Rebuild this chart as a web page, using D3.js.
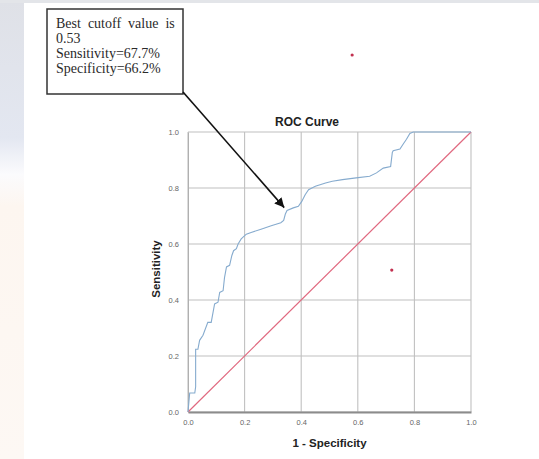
<!DOCTYPE html>
<html>
<head>
<meta charset="utf-8">
<script src="https://cdn.jsdelivr.net/npm/d3@7"></script>
<style>
  body { margin: 0; background: #fff; }
  svg { display: block; }
</style>
</head>
<body>
<svg id="chart" width="539" height="459"></svg>
<script>
// ROC curve points
const fpr = [0, 0.006, 0.024, 0.027, 0.027, 0.035, 0.041, 0.053, 0.07, 0.082,
  0.094, 0.106, 0.112, 0.124, 0.129, 0.136, 0.147, 0.155, 0.161, 0.171,
  0.177, 0.188, 0.206, 0.223, 0.258, 0.294, 0.328, 0.338, 0.344, 0.35,
  0.372, 0.39, 0.402, 0.414, 0.426, 0.45, 0.486, 0.51, 0.546, 0.594,
  0.642, 0.666, 0.69, 0.716, 0.722, 0.725, 0.749, 0.76, 0.772, 0.784,
  0.796, 0.856, 1.0]
const tpr = [0, 0.068, 0.068, 0.09, 0.224, 0.224, 0.256, 0.274, 0.32, 0.32,
  0.386, 0.392, 0.427, 0.433, 0.48, 0.518, 0.524, 0.559, 0.576, 0.583,
  0.6, 0.618, 0.635, 0.641, 0.653, 0.665, 0.676, 0.684, 0.707, 0.72,
  0.729, 0.735, 0.752, 0.776, 0.794, 0.806, 0.818, 0.824, 0.83, 0.836,
  0.842, 0.854, 0.871, 0.877, 0.927, 0.933, 0.939, 0.956, 0.974, 0.995,
  1.0, 1.0, 1.0]
const refLine = [0, 1]
const ticks = [0, 0.2, 0.4, 0.6, 0.8, 1.0]
const noteLines = ["Best cutoff value is", "0.53", "Sensitivity=67.7%", "Specificity=66.2%"]
const cutoffPoint = [0.34, 0.73]
const strayDots = [[0.58, 1.275], [0.72, 0.507]]

const svg = d3.select("#chart")

// page backdrop: grey top strip and tinted left edge
const defs = svg.append("defs")
const grad = defs.append("linearGradient").attr("id", "edge")
  .attr("x1", 0).attr("y1", 0).attr("x2", 0).attr("y2", 1)
grad.append("stop").attr("offset", "0%").attr("stop-color", "#dfe1e7")
grad.append("stop").attr("offset", "30%").attr("stop-color", "#e3e7f1")
grad.append("stop").attr("offset", "38%").attr("stop-color", "#fbfbfd")
grad.append("stop").attr("offset", "45%").attr("stop-color", "#fdf6f0")
grad.append("stop").attr("offset", "100%").attr("stop-color", "#fdf8f4")
svg.append("rect").attr("x", 0).attr("y", 0).attr("width", 539).attr("height", 459).attr("fill", "url(#edge)")
svg.append("rect").attr("x", 0).attr("y", 0).attr("width", 539).attr("height", 3).attr("fill", "#e3e5e9")
svg.append("rect").attr("x", 24).attr("y", 3).attr("width", 515).attr("height", 456).attr("fill", "#fff")

const margin = { left: 188, top: 132, right: 68, bottom: 47 }
const width = 539 - margin.left - margin.right
const height = 459 - margin.top - margin.bottom

const x = d3.scaleLinear().domain([0, 1]).range([0, width])
const y = d3.scaleLinear().domain([0, 1]).range([height, 0])

const g = svg.append("g").attr("transform", `translate(${margin.left},${margin.top})`)

// grid
g.append("g").selectAll("line").data(ticks).enter().append("line")
  .attr("x1", d => x(d)).attr("x2", d => x(d))
  .attr("y1", 0).attr("y2", height)
  .attr("stroke", "#c0c0c0").attr("stroke-width", 1.1)
g.append("g").selectAll("line").data(ticks).enter().append("line")
  .attr("x1", 0).attr("x2", width)
  .attr("y1", d => y(d)).attr("y2", d => y(d))
  .attr("stroke", "#c0c0c0").attr("stroke-width", 1.1)

// axes
const xAxis = g.append("g")
  .attr("transform", `translate(0,${height})`)
  .call(d3.axisBottom(x).tickValues(ticks).tickFormat(d3.format(".1f")).tickSize(0).tickPadding(8))
xAxis.select(".domain").attr("stroke", "#8c8c8c").attr("stroke-width", 2)

const yAxis = g.append("g")
  .call(d3.axisLeft(y).tickValues(ticks).tickFormat(d3.format(".1f")).tickSize(0).tickPadding(9))
yAxis.select(".domain").attr("stroke", "#b0b0b0").attr("stroke-width", 1)

svg.selectAll(".tick text")
  .attr("font-family", "Liberation Sans, Arial, sans-serif")
  .attr("font-size", "7.5px")
  .attr("fill", "#666")

// reference diagonal
g.append("path")
  .datum(refLine)
  .attr("d", d3.line().x(d => x(d)).y(d => y(d)))
  .attr("fill", "none").attr("stroke", "#e0687f").attr("stroke-width", 1.2)

// ROC curve
const rocData = fpr.map((v, i) => [v, tpr[i]])
g.append("path")
  .datum(rocData)
  .attr("d", d3.line().x(d => x(d[0])).y(d => y(d[1])))
  .attr("fill", "none").attr("stroke", "#86abce").attr("stroke-width", 1.1)

// stray red dots
g.append("g").selectAll("circle").data(strayDots).enter().append("circle")
  .attr("cx", d => x(d[0])).attr("cy", d => y(d[1]))
  .attr("r", 1.6).attr("fill", "#c23150")

// titles
svg.append("text")
  .attr("x", 307).attr("y", 126)
  .attr("text-anchor", "middle")
  .attr("font-family", "Liberation Sans, Arial, sans-serif")
  .attr("font-weight", "bold").attr("font-size", "12px").attr("fill", "#222")
  .text("ROC Curve")
svg.append("text")
  .attr("x", margin.left + width / 2).attr("y", 447)
  .attr("text-anchor", "middle")
  .attr("font-family", "Liberation Sans, Arial, sans-serif")
  .attr("font-weight", "bold").attr("font-size", "11.5px").attr("fill", "#222")
  .text("1 - Specificity")
svg.append("text")
  .attr("transform", `translate(159.5,269) rotate(-90)`)
  .attr("text-anchor", "middle")
  .attr("font-family", "Liberation Sans, Arial, sans-serif")
  .attr("font-weight", "bold").attr("font-size", "11.5px").attr("fill", "#222")
  .text("Sensitivity")

// annotation box
const box = { x: 47, y: 9, w: 136, h: 85 }
svg.append("rect")
  .attr("x", box.x).attr("y", box.y).attr("width", box.w).attr("height", box.h)
  .attr("fill", "#fff").attr("stroke", "#333").attr("stroke-width", 1.5)
svg.append("g").selectAll("text").data(noteLines).enter().append("text")
  .attr("x", 56).attr("y", (d, i) => 27.5 + i * 15)
  .attr("font-family", "Liberation Serif, Times New Roman, serif")
  .attr("font-size", "14px").attr("fill", "#2a2a2a")
  .style("word-spacing", (d, i) => i === 0 ? "3.5px" : "0px")
  .text(d => d)

// arrow from box corner to cutoff point
defs.append("marker").attr("id", "arrowhead")
  .attr("viewBox", "0 0 10 10").attr("refX", 10).attr("refY", 5)
  .attr("markerWidth", 6).attr("markerHeight", 6).attr("markerUnits", "strokeWidth")
  .attr("orient", "auto")
  .append("path").attr("d", "M0,0 L10,5 L0,10 Z").attr("fill", "#111")
svg.append("line")
  .attr("x1", box.x + box.w).attr("y1", box.y + box.h - 2)
  .attr("x2", margin.left + x(cutoffPoint[0])).attr("y2", margin.top + y(cutoffPoint[1]))
  .attr("stroke", "#111").attr("stroke-width", 1.6)
  .attr("marker-end", "url(#arrowhead)")
</script>
</body>
</html>
